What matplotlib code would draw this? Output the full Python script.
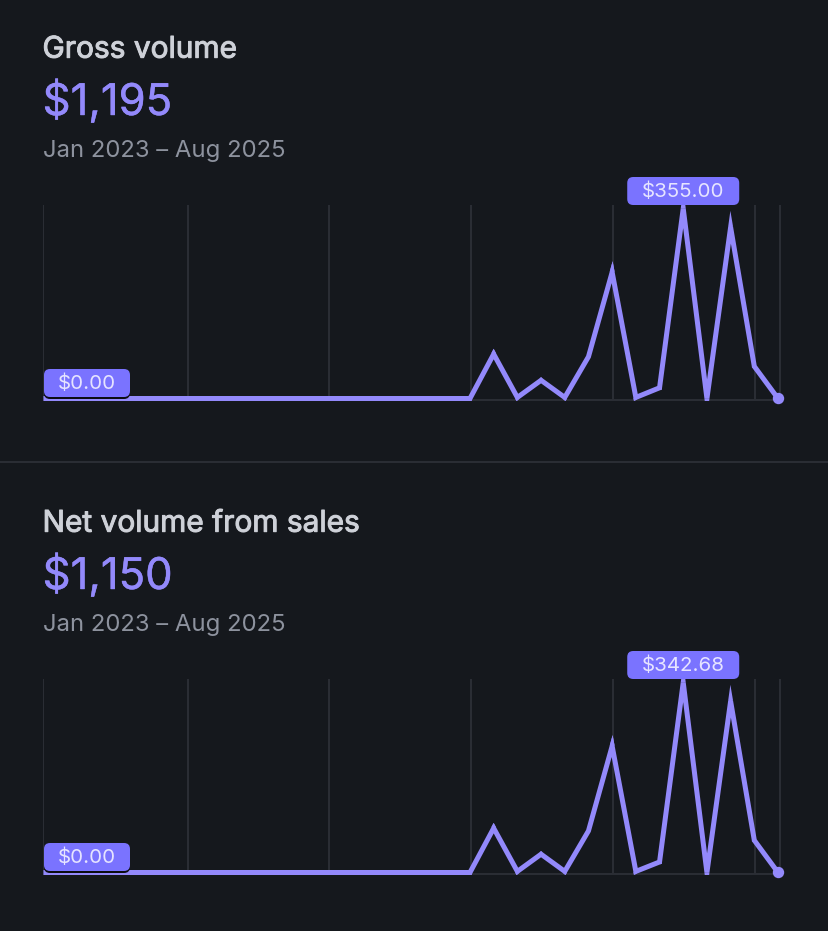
import matplotlib
matplotlib.use("Agg")
import matplotlib.pyplot as plt
import matplotlib.patheffects as pe
import numpy as np
from matplotlib.patches import FancyBboxPatch, Polygon
from matplotlib.transforms import IdentityTransform

W, H = 828, 931
BG = "#15181d"
LINE = "#9389fb"
BADGE = "#7a73ff"
GRID = "#2b2e35"
plt.rcParams["font.family"] = ["Inter", "DejaVu Sans"]

titles = ["Gross volume", "Net volume from sales"]
totals = ["$1,195", "$1,150"]
period = "Jan 2023 – Aug 2025"
months = list(range(32))
gross = [0] * 19 + [83, 2, 34, 2, 78, 236, 2, 20, 355, 0, 320, 60, 0]
net = [0] * 19 + [80, 2, 33, 2, 75, 228, 2, 19, 342.68, 0, 309, 58, 0]
series = [gross, net]
max_labels = ["$355.00", "$342.68"]
min_label = "$0.00"
grid_months = [0, 6.08, 12.07, 18.05, 24.03, 30.02, 31.08]
LW_PX = 5.0

fig = plt.figure(figsize=((W + 0.01) / 100, (H + 0.01) / 100), dpi=100, facecolor=BG)


def fx(px):
    return px / W


def fy(py):
    return 1 - py / H


def badge(cx, top, w, h, text, shadow=False):
    x0 = cx - w / 2
    y0 = H - top - h
    if shadow:
        fig.add_artist(FancyBboxPatch((x0, y0 - 2), w, h, boxstyle="round,pad=0,rounding_size=6",
                                      fc="#0b0c12", ec="none", transform=IdentityTransform(), zorder=9))
    fig.add_artist(FancyBboxPatch((x0, y0), w, h, boxstyle="round,pad=0,rounding_size=6",
                                  fc=BADGE, ec="none", transform=IdentityTransform(), zorder=10))
    fig.text(fx(cx), fy(top + h / 2 + 1), text, color="#e6e4ff", fontsize=14.8, ha="center",
             va="center", zorder=11)


def miter_tips(ax, xs, ys):
    """Long pointed joins, which Agg would otherwise cut off: one triangle per corner."""
    pts = ax.transData.transform(np.column_stack([xs, ys]))
    hw = LW_PX / 2
    for p0, p, p1 in zip(pts[:-2], pts[1:-1], pts[2:]):
        a = (p - p0) / np.linalg.norm(p - p0)
        b = (p1 - p) / np.linalg.norm(p1 - p)
        sin_half = np.linalg.norm(a + b) / 2
        if sin_half > 0.98 or sin_half < 0.1:
            continue
        d = a - b
        m = d / np.linalg.norm(d)
        na = np.array([-a[1], a[0]])
        nb = np.array([-b[1], b[0]])
        if na @ m < 0:
            na, nb = -na, -nb
        tri = [p + na * hw, p + m * hw / sin_half, p + nb * hw, p]
        ax.add_patch(Polygon(tri, closed=True, fc=LINE, ec="none", transform=IdentityTransform(), zorder=3))


for i, offset in enumerate([0, 474]):
    t = fig.text(fx(42.5), fy(57.7 + offset), titles[i], color="#ced1d8", fontsize=21.5,
                 ha="left", va="baseline")
    t.set_path_effects([pe.withStroke(linewidth=0.7, foreground="#ced1d8")])
    t = fig.text(fx(42.6), fy(115 + offset), totals[i], color=LINE, fontsize=31.4,
                 ha="left", va="baseline")
    t.set_path_effects([pe.withStroke(linewidth=0.3, foreground=LINE)])
    fig.text(fx(42.5), fy(157 + offset), period, color="#8d929e", fontsize=17.2, ha="left", va="baseline")

    left, right, top, bottom = 43, 782, 205 + offset, 401.5 + offset
    ax = fig.add_axes([fx(left), fy(bottom), (right - left) / W, (bottom - top) / H])
    ax.patch.set_visible(False)
    values = series[i]
    scale = 190 / max(values)
    ax.set_ylim(-3 / scale, 193.5 / scale)
    ax.set_xlim(-0.02, (right - left) / (735 / 31))
    for s in ax.spines.values():
        s.set_visible(False)
    ax.set_xticks([])
    ax.set_yticks([])
    for g in grid_months:
        ax.plot([g, g], [-2 / scale, 193.5 / scale], color=GRID, lw=1.4, zorder=1)
    ax.axhline(-2 / scale, color=GRID, lw=1.4, zorder=1)
    ax.plot(months, values, color=LINE, lw=LW_PX * 0.72, solid_joinstyle="miter",
            solid_capstyle="butt", zorder=3)
    miter_tips(ax, months, values)
    ax.plot(months[-1], values[-1], "o", color=LINE, ms=8.2, mec="none", zorder=4, clip_on=False)

    peak = values.index(max(values))
    px, _ = ax.transData.transform((months[peak], values[peak]))
    badge(px, 177 + offset, 112, 28, max_labels[i])
    badge(87, 369 + offset, 86, 28, min_label, shadow=True)

fig.add_artist(plt.Line2D([0, 1], [fy(462), fy(462)], color=GRID, lw=1.4))
fig.savefig("out.png", dpi=100, facecolor=BG)
